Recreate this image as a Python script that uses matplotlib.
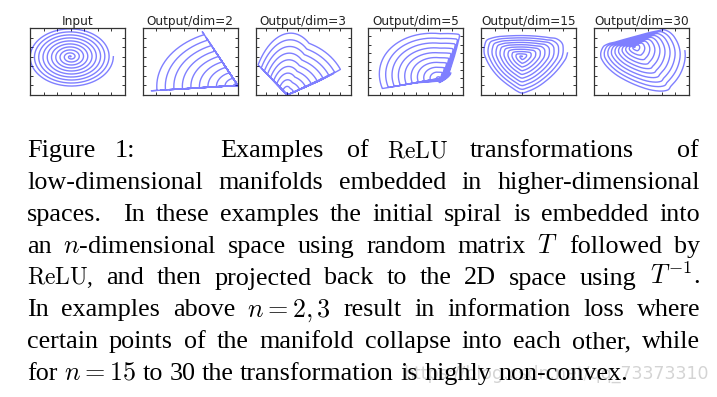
import numpy as np
import matplotlib
matplotlib.use("Agg")
import matplotlib.pyplot as plt
from matplotlib.ticker import MaxNLocator

# spiral input (10 turns, Archimedean)
spiral_turns = 10
spiral_points = 4000

# rows of the embedding matrix T for each panel: direction (deg) and length
angles_dim2 = [95, 205]
scales_dim2 = [1.0, 1.0]
angles_dim3 = [73, 118, 339]
scales_dim3 = [0.5, 2.6, 0.4]
angles_dim5 = [109, 359, 164, 161, 322]
scales_dim5 = [0.7, 0.5, 1.3, 1.1, 0.4]
angles_dim15 = [6, 15, 40, 81, 92, 151, 150, 162, 181, 246, 252, 279, 282, 316, 11]
scales_dim15 = [1.0, 1.3, 1.1, 1.0, 0.8, 1.1, 1.0, 1.1, 0.9, 1.1, 1.2, 0.9, 1.1, 1.0, 0.8]
angles_dim30 = [40, 40, 41, 38, 44, 41, 48, 54, 127, 105, 168, 201, 189, 190, 206,
                236, 255, 259, 261, 256, 301, 290, 291, 278, 305, 290, 291, 310, 327, 322]
scales_dim30 = [1.3, 1.0, 1.0, 1.1, 0.9, 1.2, 0.8, 0.7, 0.8, 0.8, 1.2, 0.7, 0.8, 0.9, 1.4,
                1.2, 1.0, 0.8, 1.0, 1.0, 0.8, 0.9, 0.7, 0.9, 1.0, 1.2, 0.8, 1.0, 1.1, 1.3]

panel_titles = ["Input", "Output/dim=2", "Output/dim=3", "Output/dim=5",
                "Output/dim=15", "Output/dim=30"]

# caption, one list of words per printed line
caption_lines = [
    ["Figure", "1:", "Examples", "of", r"$\mathrm{ReLU}$", "transformations", "of"],
    ["low-dimensional", "manifolds", "embedded", "in", "higher-dimensional"],
    ["spaces.", "In", "these", "examples", "the", "initial", "spiral", "is", "embedded", "into"],
    ["an", "$n$-dimensional", "space", "using", "random", "matrix", "$T$", "followed", "by"],
    [r"$\mathrm{ReLU}$,", "and", "then", "projected", "back", "to", "the", "2D", "space", "using", "$T^{-1}$."],
    ["In", "examples", "above", "$n=2,3$", "result", "in", "information", "loss", "where"],
    ["certain", "points", "of", "the", "manifold", "collapse", "into", "each", "other,", "while"],
    ["for", "$n=15$", "to", "30", "the", "transformation", "is", "highly", "non-convex."],
]
# first line: word starts as set in the reference (label gap is wide)
first_line_x = [27, 115, 220, 347, 387, 470, 677]
# relative stretch of the inter-word gaps (None = even)
caption_gaps = [None, None, [2, 1, 1, 1, 1, 1, 1, 1, 1], None, None, None, None, None]
watermark = "https://blog.csdn.net/qq_73373310"

# ---------------------------------------------------------------------------
plt.rcParams['mathtext.fontset'] = 'cm'
plt.rcParams['axes.autolimit_mode'] = 'round_numbers'
plt.rcParams['axes.xmargin'] = 0
plt.rcParams['axes.ymargin'] = 0

theta = np.linspace(0, spiral_turns * 2 * np.pi, spiral_points)
spiral = np.vstack([theta * np.cos(theta), theta * np.sin(theta)])


def relu_embed(angles, scales):
    # y = T^+ ReLU(T x)
    a = np.deg2rad(angles)
    T = np.column_stack([np.cos(a), np.sin(a)]) * np.array(scales)[:, None]
    return np.linalg.pinv(T) @ np.maximum(T @ spiral, 0)


curves = [spiral,
          relu_embed(angles_dim2, scales_dim2),
          relu_embed(angles_dim3, scales_dim3),
          relu_embed(angles_dim5, scales_dim5),
          relu_embed(angles_dim15, scales_dim15),
          relu_embed(angles_dim30, scales_dim30)]

FW, FH = 717, 397
fig = plt.figure(figsize=(FW / 100, FH / 100), dpi=100)

for i, (title, xy) in enumerate(zip(panel_titles, curves)):
    left = 30 + 112.8 * i
    ax = fig.add_axes([left / FW, 1 - 95 / FH, 95 / FW, 67 / FH])
    ax.xaxis.set_major_locator(MaxNLocator(9, steps=[1, 2, 5, 10]))
    ax.yaxis.set_major_locator(MaxNLocator(9, steps=[1, 2, 5, 10]))
    ax.plot(xy[0], xy[1], color='blue', alpha=0.5, lw=1.0)
    ax.set_title(title, fontsize=8.7, pad=2, color='#222222', family='DejaVu Sans')
    ax.tick_params(direction='in', top=True, right=True, length=2.2, width=0.7,
                   labelbottom=False, labelleft=False, color='#333333')
    for sp in ax.spines.values():
        sp.set_linewidth(0.9)
        sp.set_color('#333333')

# watermark (faint, under the caption)
fig.text(709 / FW, 1 - 379 / FH, watermark, fontsize=12.5, color='#d4d4d4',
         family='DejaVu Sans', ha='right', va='baseline', zorder=0)

# caption: justified between x=27 and x=700, last line ragged
fs = 18.8
x_left, x_right = 27, 700
space_px = 0.25 * fs * 100 / 72
baselines = [157.3 + 31.8 * k for k in range(len(caption_lines))]
renderer = fig.canvas.get_renderer()
for n_line, (words, gaps, yb) in enumerate(zip(caption_lines, caption_gaps, baselines)):
    texts = [fig.text(0, 1 - yb / FH, w, fontsize=fs * (0.9 if 'ReLU' in w else 1.0),
                      va='baseline', ha='left', family=['Liberation Serif', 'DejaVu Serif'],
                      color='black', zorder=2)
             for w in words]
    if n_line == 0:
        for t, x in zip(texts, first_line_x):
            t.set_x(x / FW)
        continue
    widths = [t.get_window_extent(renderer=renderer).width for t in texts]
    if n_line == len(caption_lines) - 1:
        gap_px = [space_px] * (len(words) - 1)
    else:
        g = np.ones(len(words) - 1) if gaps is None else np.array(gaps, float)
        gap_px = ((x_right - x_left) - sum(widths)) * g / g.sum()
    x = x_left
    for k, t in enumerate(texts):
        t.set_x(x / FW)
        if k < len(gap_px):
            x += widths[k] + gap_px[k]

fig.savefig("out.png", dpi=100)
